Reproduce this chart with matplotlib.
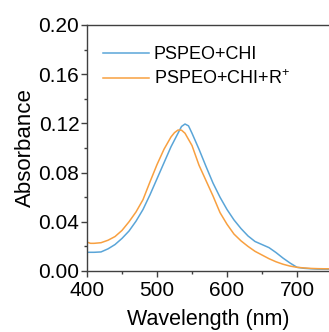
import matplotlib
matplotlib.use("Agg")
import matplotlib.pyplot as plt

plt.rcParams['font.family'] = ['Liberation Sans', 'DejaVu Sans']
plt.rcParams['mathtext.fontset'] = 'custom'
plt.rcParams['mathtext.rm'] = 'Liberation Sans'

wl_blue = [400, 410, 420, 430, 440, 450, 460, 470, 480, 490, 500, 510, 520, 530, 535, 540,
           545, 550, 560, 570, 580, 590, 600, 610, 620, 630, 640, 650, 660, 670, 680, 690,
           700, 710, 720, 730, 740, 750]
abs_blue = [0.0152, 0.0152, 0.0155, 0.0180, 0.0215, 0.0265, 0.0325, 0.0405, 0.0500, 0.0620,
            0.0750, 0.0880, 0.1010, 0.1120, 0.1175, 0.1195, 0.1180, 0.1120, 0.0990, 0.0850,
            0.0715, 0.0600, 0.0500, 0.0415, 0.0345, 0.0285, 0.0240, 0.0215, 0.0190, 0.0150,
            0.0105, 0.0065, 0.0030, 0.0022, 0.0018, 0.0015, 0.0014, 0.0014]

wl_orange = [400, 405, 410, 420, 430, 440, 450, 460, 470, 480, 490, 500, 510, 520, 525, 530,
             535, 540, 550, 560, 570, 580, 590, 600, 610, 620, 630, 640, 650, 660, 670, 680,
             690, 700, 710, 720, 730, 740, 750]
abs_orange = [0.0235, 0.0225, 0.0225, 0.0230, 0.0250, 0.0280, 0.0330, 0.0400, 0.0480, 0.0580,
              0.0725, 0.0865, 0.0990, 0.1090, 0.1125, 0.1146, 0.1145, 0.1120, 0.1020, 0.0860,
              0.0735, 0.0610, 0.0475, 0.0380, 0.0300, 0.0245, 0.0200, 0.0160, 0.0130, 0.0100,
              0.0075, 0.0055, 0.0040, 0.0030, 0.0025, 0.0021, 0.0019, 0.0018, 0.0018]

labels = ["PSPEO+CHI", "PSPEO+CHI+R$^{\\mathregular{+}}$"]
colors = ["#5aa5d8", "#f8a040"]

fig = plt.figure(figsize=(3.29, 3.32), dpi=100)
ax = fig.add_axes([87/329, 1 - 271/332, 1 - 87/329, (271 - 25)/332])

ax.plot(wl_blue, abs_blue, color=colors[0], lw=1.1, label=labels[0])
ax.plot(wl_orange, abs_orange, color=colors[1], lw=1.1, label=labels[1])

ax.set_xlim(400, 745.7)
ax.set_ylim(0, 0.20)
ax.set_xticks([400, 500, 600, 700])
ax.set_xticks([450, 550, 650], minor=True)
ax.set_yticks([0.00, 0.04, 0.08, 0.12, 0.16, 0.20])
ax.set_yticks([0.02, 0.06, 0.10, 0.14, 0.18], minor=True)
ax.set_yticklabels(["0.00", "0.04", "0.08", "0.12", "0.16", "0.20"])

spc = '#404040'
for s in ['left', 'bottom', 'top']:
    ax.spines[s].set_color(spc)
    ax.spines[s].set_linewidth(1.0)
ax.spines['right'].set_visible(False)

ax.tick_params(which='major', direction='out', length=4, width=1, color=spc,
               labelsize=15, pad=1.5)
ax.tick_params(which='minor', direction='out', length=2.5, width=1, color=spc)
ax.tick_params(axis='x', which='major', pad=3)

ax.set_xlabel("Wavelength (nm)", fontsize=15.5, labelpad=7)
ax.set_ylabel("Absorbance", fontsize=16, labelpad=2)

leg = ax.legend(loc='upper left', bbox_to_anchor=(0.0, 1.0), frameon=False,
                fontsize=13, handlelength=2.55, handletextpad=0.25,
                labelspacing=0.35, borderaxespad=0.0, borderpad=0.0)
leg.set_bbox_to_anchor((103/329, 1 - 46/332), transform=fig.transFigure)

fig.savefig("out.png", dpi=100)
